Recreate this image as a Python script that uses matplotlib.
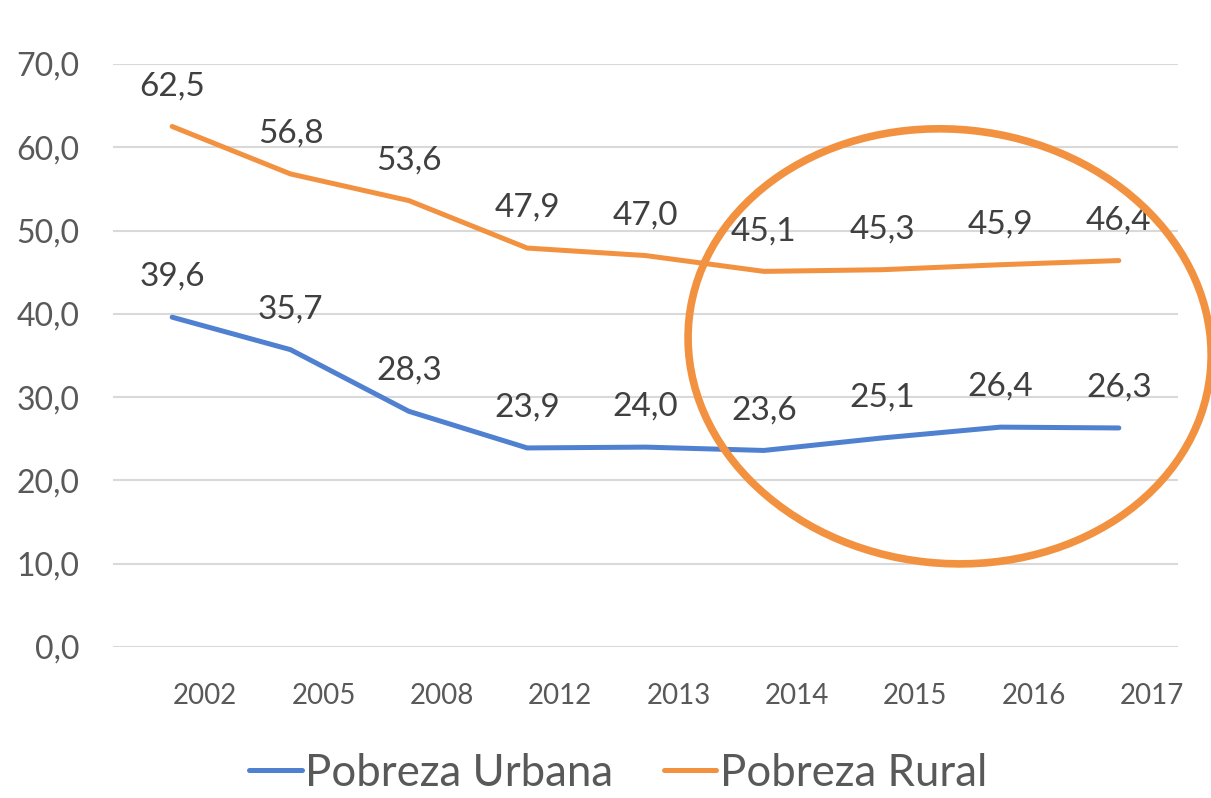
import matplotlib
matplotlib.use('Agg')
from matplotlib import pyplot as plt
from matplotlib.patches import Ellipse
from matplotlib import transforms
import numpy as np

years = ['2002', '2005', '2008', '2012', '2013', '2014', '2015', '2016', '2017']
urbana = [39.6, 35.7, 28.3, 23.9, 24.0, 23.6, 25.1, 26.4, 26.3]
rural = [62.5, 56.8, 53.6, 47.9, 47.0, 45.1, 45.3, 45.9, 46.4]

blue = '#4f81d0'
orange = '#f29240'
txt = '#404040'
tick_col = '#595959'

plt.rcParams['font.family'] = ['Lato', 'DejaVu Sans']

fig = plt.figure(figsize=(12.11, 7.98), dpi=100)
ax = fig.add_axes([113/1211, 151/798, 1065/1211, 583/798])

x = np.arange(len(years))
ax.plot(x, urbana, color=blue, lw=3.6, solid_capstyle='round', label='Pobreza Urbana', zorder=3)
ax.plot(x, rural, color=orange, lw=3.6, solid_capstyle='round', label='Pobreza Rural', zorder=3)

for xs, ys in [(x, urbana), (x, rural)]:
    for xi, yi in zip(xs, ys):
        ax.annotate(f'{yi:.1f}'.replace('.', ','), (xi, yi), xytext=(0, 29),
                    textcoords='offset points', ha='center', va='center',
                    fontsize=24, color=txt)

ax.set_xlim(-0.5, len(years) - 0.5)
ax.set_ylim(0, 70)
ax.set_yticks(np.arange(0, 71, 10))
ax.set_yticklabels([f'{v:.1f}'.replace('.', ',') for v in np.arange(0, 71, 10)])
ax.set_xticks(x + 0.28)
ax.set_xticklabels(years)
ax.tick_params(axis='y', length=0, pad=24, labelsize=23, labelcolor=tick_col)
ax.tick_params(axis='x', length=0, pad=26, labelsize=20, labelcolor=tick_col)
ax.grid(axis='y', color='#d9d9d9', lw=1.5)
ax.set_axisbelow(True)
for s in ax.spines.values():
    s.set_visible(False)

# highlight circle, sized in pixels around a data point
fig.canvas.draw()
cx, cy = ax.transData.transform((6.57, 36.1))
ell = Ellipse((0, 0), 524, 434, angle=-6, fill=False, ec=orange, lw=5.5,
              transform=transforms.Affine2D().translate(cx, cy), zorder=4,
              clip_on=False)
ax.add_artist(ell)

fig.legend(loc='center', bbox_to_anchor=(0.5105, 1 - 773/798), ncol=2, frameon=False,
           fontsize=31.5, handlelength=1.2, handletextpad=0.08, columnspacing=1.16,
           labelcolor=tick_col)

fig.savefig('out.png', dpi=100)
